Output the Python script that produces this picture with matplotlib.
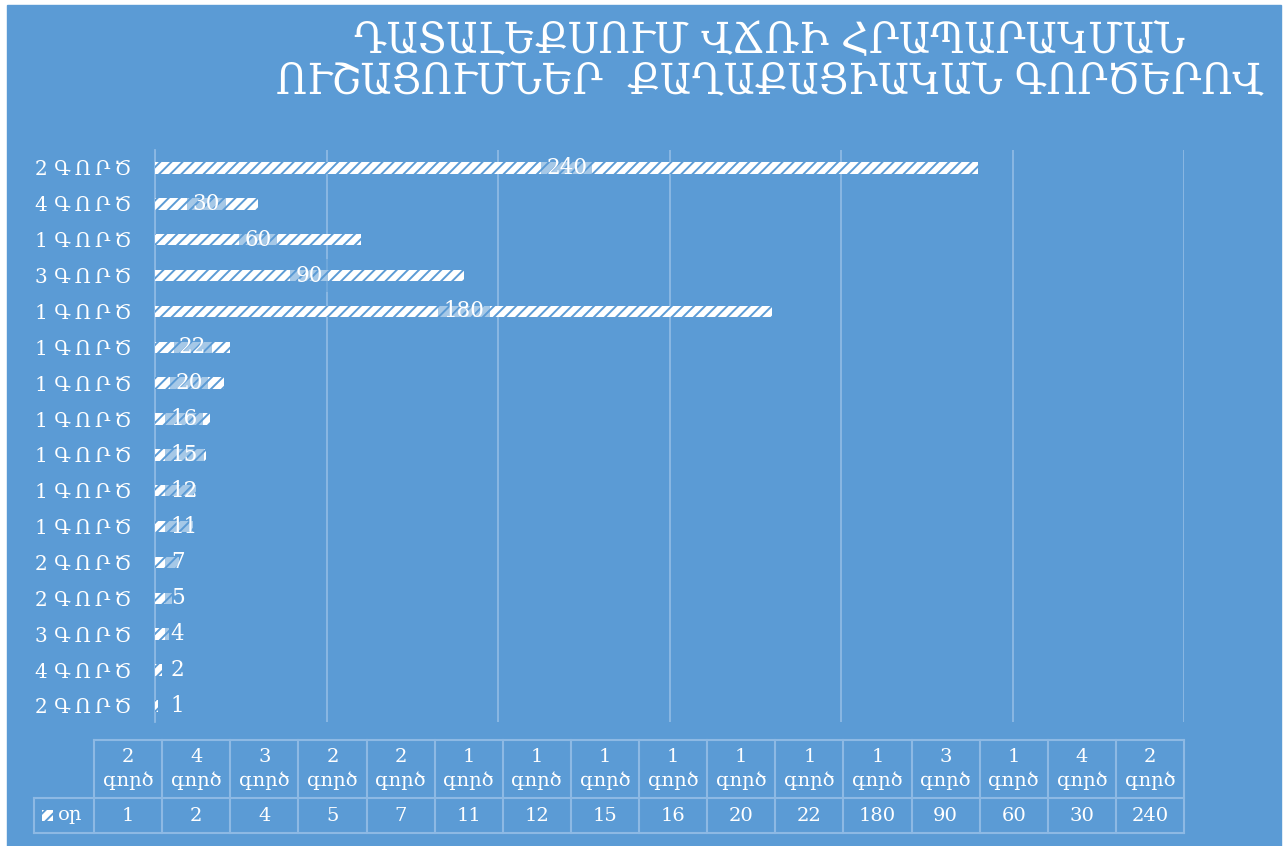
import matplotlib
matplotlib.use('Agg')
import matplotlib.pyplot as plt
from matplotlib.patches import Rectangle
from matplotlib.lines import Line2D

# data, bottom bar first (same order as the table columns)
counts = [2, 4, 3, 2, 2, 1, 1, 1, 1, 1, 1, 1, 3, 1, 4, 2]
days = [1, 2, 4, 5, 7, 11, 12, 15, 16, 20, 22, 180, 90, 60, 30, 240]
axis_word = 'Գ\u2009Ո\u2009Ր\u2009Ծ'
table_word = 'գործ'
series_name = 'օր'
title_lines = ['ԴԱՏԱԼԵՔՍՈՒՄ ՎՃՌԻ ՀՐԱՊԱՐԱԿՄԱՆ',
               'ՈՒՇԱՑՈՒՄՆԵՐ  ՔԱՂԱՔԱՑԻԱԿԱՆ ԳՈՐԾԵՐՈՎ']

blue = '#5B9BD5'
grid_c = '#8DB9E4'
W, H = 1284, 846

plt.rcParams['font.family'] = ['DejaVu Serif', 'DejaVu Sans']
plt.rcParams['hatch.linewidth'] = 1.4
plt.rcParams['hatch.color'] = blue

fig = plt.figure(figsize=(W / 100, H / 100), dpi=100)
fig.patch.set_facecolor('white')
fig.patches.append(Rectangle((7 / W, 0), (1281 - 7) / W, (H - 5) / H,
                             transform=fig.transFigure, color=blue, zorder=-10))

def fx(px):
    return px / W

def fy(py):
    return 1 - py / H

ax = fig.add_axes([fx(155), fy(722), fx(1184) - fx(155), fy(150) - fy(722)])
ax.set_facecolor('none')
ypos = list(range(len(days)))
ax.barh(ypos, days, height=0.32, color='white', edgecolor=blue,
        hatch='///', linewidth=0, zorder=3)
ax.set_xlim(0, 300)
ax.set_ylim(-0.45, 15.5)
ax.set_xticks(range(0, 301, 50))
ax.xaxis.grid(True, color=grid_c, linewidth=1.3, zorder=0)
ax.tick_params(axis='x', length=0, labelbottom=False)
ax.set_yticks(ypos)
ax.set_yticklabels([f'{c} {axis_word}' for c in counts], color='white', fontsize=14.5)
ax.tick_params(axis='y', length=0, pad=17)
for s in ['top', 'right', 'bottom']:
    ax.spines[s].set_visible(False)
ax.spines['left'].set_color(grid_c)
ax.spines['left'].set_linewidth(1.3)

for y, v in zip(ypos, days):
    if v <= 16:
        x, ha = 4.6, 'left'
    else:
        x, ha = v / 2, 'center'
    ax.text(x, y, str(v), ha=ha, va='center', color='white', fontsize=15.5, zorder=5,
            bbox=dict(boxstyle='square,pad=0.25', facecolor=blue, alpha=0.55,
                      edgecolor='none'))

# title
fig.text(fx(770), fy(40), title_lines[0], ha='center', va='center', color='white',
         fontsize=31, fontstretch='condensed')
fig.text(fx(770), fy(82), title_lines[1], ha='center', va='center', color='white',
         fontsize=31, fontstretch='condensed')

# data table
x0, x1 = 94, 1184
cw = (x1 - x0) / len(days)
top, mid, bot = 740, 798, 833
lx = 34
lc = dict(color=grid_c, linewidth=1.5, transform=fig.transFigure)
fig.add_artist(Line2D([fx(x0), fx(x1)], [fy(top), fy(top)], **lc))
fig.add_artist(Line2D([fx(lx), fx(x1)], [fy(mid), fy(mid)], **lc))
fig.add_artist(Line2D([fx(lx), fx(x1)], [fy(bot), fy(bot)], **lc))
fig.add_artist(Line2D([fx(lx), fx(lx)], [fy(mid), fy(bot)], **lc))
for i in range(len(days) + 1):
    xx = x0 + i * cw
    fig.add_artist(Line2D([fx(xx), fx(xx)], [fy(top), fy(bot)], **lc))
for i, (c, v) in enumerate(zip(counts, days)):
    cx = x0 + (i + 0.5) * cw
    fig.text(fx(cx), fy((top + mid) / 2), f'{c}\n{table_word}', ha='center',
             va='center', color='white', fontsize=14, linespacing=1.35)
    fig.text(fx(cx), fy((mid + bot) / 2), str(v), ha='center', va='center',
             color='white', fontsize=14)
fig.patches.append(Rectangle((fx(42), fy(821)), fx(11), 11 / H,
                             transform=fig.transFigure, facecolor='white',
                             edgecolor=blue, hatch='///', linewidth=0))
fig.text(fx(58), fy((mid + bot) / 2), series_name, ha='left', va='center',
         color='white', fontsize=14)

fig.savefig('out.png', dpi=100, facecolor=fig.get_facecolor())
